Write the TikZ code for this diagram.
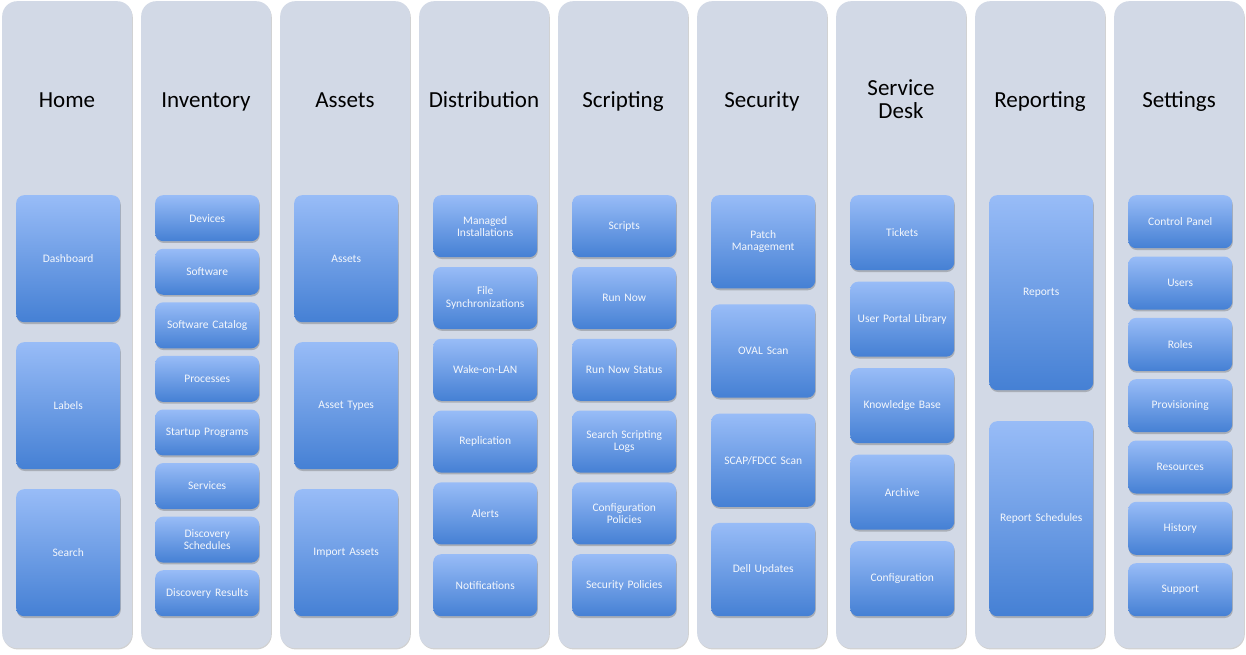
\documentclass[tikz,border=0pt]{standalone}
\usepackage{fontspec}
\setmainfont{Carlito}
\usetikzlibrary{shadows}
\definecolor{colbg}{HTML}{D2D9E6}
\definecolor{btop}{HTML}{98BCF7}
\definecolor{bbot}{HTML}{4580D4}
\definecolor{btext}{HTML}{F4F7FC}
\newcommand\menucol[6]{%
  \pgfmathsetmacro\cx{2+139*#1}%
  \node[colbox] (col#1) at (\cx,1) {};
  \node[header, #6] (head#1) at (\cx+65,108) {#2};
  \pgfmathsetmacro\bh{(421-(#3-1)*#4)/#3}%
  \foreach \t [count=\k from 0] in {#5} {
    \pgfmathsetmacro\by{195+\k*(\bh+#4)}
    \node[item, minimum height=\bh pt] (b#1-\k) at (\cx+14,\by) {\t};
  }
}
\begin{document}
\begin{tikzpicture}[x=1pt,y=-1pt,
  colbox/.style={fill=colbg, draw=none, rounded corners=15pt,
    minimum width=130pt, minimum height=647pt, anchor=north west, inner sep=0pt,
    drop shadow={shadow xshift=0.6pt, shadow yshift=-1.2pt, opacity=0.18, fill=black}},
  header/.style={align=center, font=\fontsize{23}{23.5}\selectfont, text=black,
    inner sep=0pt, anchor=base},
  twoline/.style={anchor=center, yshift=9pt},
  item/.style={anchor=north west, rounded corners=8pt, draw=none,
    top color=btop, bottom color=bbot, minimum width=104pt, inner sep=1pt,
    text width=102pt, align=center, text=btext,
    font=\fontsize{11.5}{12.3}\selectfont,
    drop shadow={shadow xshift=0.6pt, shadow yshift=-1.8pt, opacity=0.3, fill=black!70}}]
\fill[white] (0,0) rectangle (1246,655);
\useasboundingbox (0,0) rectangle (1246,655);
\menucol{0}{Home}{3}{20}{Dashboard,Labels,Search}{}
\menucol{1}{Inventory}{8}{7.6}{Devices,Software,Software Catalog,Processes,Startup Programs,Services,{Discovery\\Schedules},Discovery Results}{}
\menucol{2}{Assets}{3}{20}{Assets,Asset Types,Import Assets}{}
\menucol{3}{Distribution}{6}{9.8}{{Managed\\Installations},{File\\Synchronizations},Wake-on-LAN,Replication,Alerts,Notifications}{}
\menucol{4}{Scripting}{6}{9.8}{Scripts,Run Now,Run Now Status,{Search Scripting\\Logs},{Configuration\\Policies},Security Policies}{}
\menucol{5}{Security}{4}{16}{{Patch\\Management},OVAL Scan,SCAP/FDCC Scan,Dell Updates}{}
\menucol{6}{Service\\Desk}{5}{11.5}{Tickets,User Portal Library,Knowledge Base,Archive,Configuration}{twoline}
\menucol{7}{Reporting}{2}{31}{Reports,Report Schedules}{}
\menucol{8}{Settings}{7}{8.3}{Control Panel,Users,Roles,Provisioning,Resources,History,Support}{}
\end{tikzpicture}
\end{document}
